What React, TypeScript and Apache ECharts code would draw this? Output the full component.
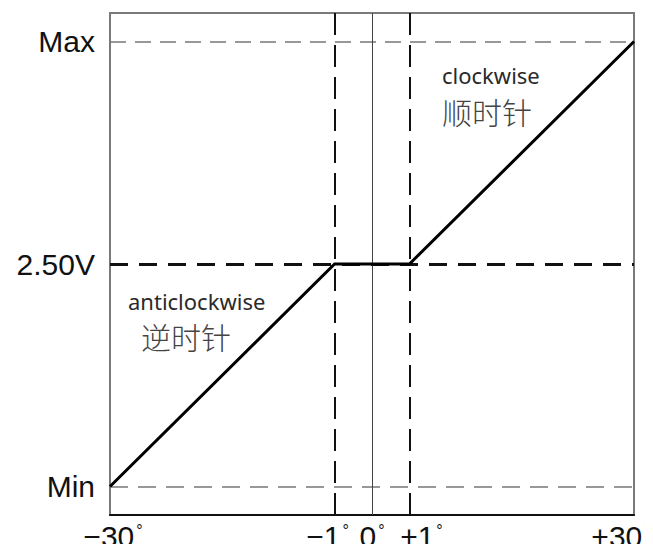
import React, { useEffect, useRef } from "react";
import * as echarts from "echarts";

// Schematic angle axis: only the named ticks carry labels
const xCategories = ["−30°", "", "", "", "", "", "−1°", "0°", "+1°", "", "", "", "", "", "+30°"];
// Output levels
const yMin = 0;
const yMid = 2.5;
const yMax = 5;
const yTickValues = [yMin, yMid, yMax];
const yTickLabels = ["Min", "2.50V", "Max"];
// Output curve (angle, level)
const curveAngles = ["−30°", "−1°", "+1°", "+30°"];
const curveLevels = [yMin, yMid, yMid, yMax];
// Annotations
const cwLabel = ["clockwise", "顺时针"];
const acwLabel = ["anticlockwise", "逆时针"];

const LABEL_FONT = "'Liberation Sans', Arial, sans-serif";

export default function App() {
  const ref = useRef<HTMLDivElement>(null);
  useEffect(() => {
    if (!ref.current) return;
    const chart = echarts.init(ref.current, undefined, { renderer: "svg" });
    const xFmt = (v: string) => {
      if (!v) return "";
      const num = v.replace("°", "");
      const core = `{n|${num}}{d|°}`;
      if (v === "+30°") return `${core}{sR| }`;
      if (v === "−1°") return `${core}{sL1| }`;
      if (v === "+1°") return `{sR1| }${core}`;
      if (v === "−30°") return `{s30| }${core}`;
      return core;
    };
    const numStyle = { fontSize: 30, lineHeight: 28, fontFamily: LABEL_FONT, color: "#111" };
    const spacer = (w: number) => ({ width: w, fontSize: 10, lineHeight: 10, color: "rgba(0,0,0,0)" });
    chart.setOption({
      animation: false,
      grid: {
        left: 110,
        right: 19,
        top: 13,
        bottom: 37,
        containLabel: false,
        outerBoundsMode: "none",
        show: true,
        borderColor: "#7a7a7a",
        borderWidth: 2,
        backgroundColor: "#fff",
      },
      xAxis: {
        type: "category",
        data: xCategories,
        boundaryGap: false,
        axisLine: { show: true, onZero: false, lineStyle: { color: "#111", width: 2 } },
        axisTick: { show: false },
        splitLine: { show: false },
        axisLabel: {
          interval: 0,
          margin: 7,
          formatter: xFmt,
          rich: {
            n: { ...numStyle },
            d: {
              fontSize: 16,
              lineHeight: 16,
              fontFamily: LABEL_FONT,
              color: "#111",
              verticalAlign: "top",
              padding: [0, 0, 0, 2],
            },
            sR: spacer(26),
            sL1: spacer(14),
            sR1: spacer(24),
            s30: spacer(6),
          },
        },
      },
      yAxis: {
        type: "value",
        min: -0.32,
        max: 5.32,
        axisLine: { show: false },
        axisTick: { show: false },
        splitLine: { show: false },
        axisLabel: {
          customValues: yTickValues,
          margin: 15,
          fontSize: 30,
          fontFamily: LABEL_FONT,
          color: "#111",
          formatter: (v: number) => {
            const i = yTickValues.indexOf(v);
            return i >= 0 ? yTickLabels[i] : "";
          },
        },
      },
      series: [
        {
          type: "line",
          data: curveAngles.map((a, i) => [a, curveLevels[i]]),
          showSymbol: false,
          symbol: "none",
          lineStyle: { color: "#000", width: 3, join: "miter" },
          z: 5,
          markLine: {
            silent: true,
            symbol: ["none", "none"],
            label: { show: false },
            animation: false,
            data: [
              { yAxis: yMax, lineStyle: { color: "#777", width: 1.5, type: [16, 9] } },
              { yAxis: yMin, lineStyle: { color: "#777", width: 1.5, type: [18, 10] } },
              { yAxis: yMid, lineStyle: { color: "#111", width: 3, type: [18, 11] } },
              { xAxis: "−1°", lineStyle: { color: "#111", width: 2, type: [22, 10] } },
              { xAxis: "+1°", lineStyle: { color: "#111", width: 2, type: [22, 10] } },
              { xAxis: "0°", lineStyle: { color: "#444", width: 1, type: "solid" } },
            ],
          },
        },
      ],
      graphic: [
        {
          type: "text",
          left: 442,
          top: 64,
          style: { text: cwLabel[0], font: "22px 'Noto Sans', sans-serif", fill: "#2a2a2a" },
        },
        {
          type: "text",
          left: 442,
          top: 96,
          style: { text: cwLabel[1], font: "300 30px 'Noto Sans CJK SC', sans-serif", fill: "#444" },
        },
        {
          type: "text",
          left: 128,
          top: 290,
          style: { text: acwLabel[0], font: "22px 'Noto Sans', sans-serif", fill: "#2a2a2a" },
        },
        {
          type: "text",
          left: 141,
          top: 321,
          style: { text: acwLabel[1], font: "300 30px 'Noto Sans CJK SC', sans-serif", fill: "#444" },
        },
      ],
    });
    return () => chart.dispose();
  }, []);
  return <div ref={ref} style={{ width: 653, height: 552, margin: -8 }} />;
}
